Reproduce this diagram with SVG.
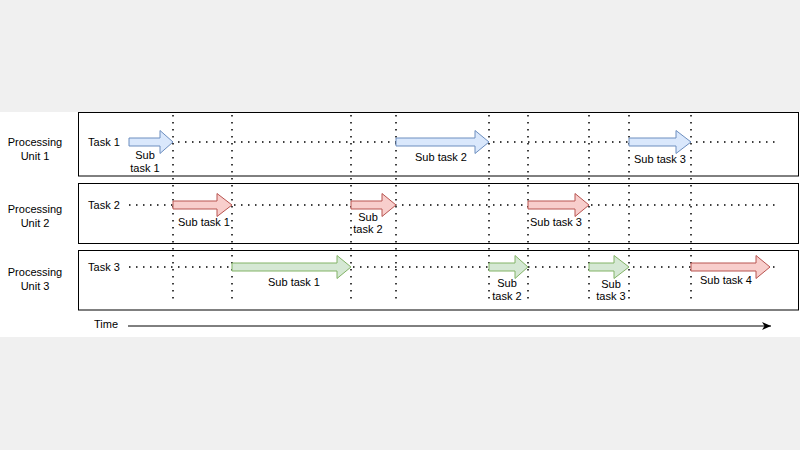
<svg xmlns="http://www.w3.org/2000/svg" width="800" height="450" viewBox="0 0 800 450">
<style>
text{font-family:"Liberation Sans",Arial,sans-serif;font-size:11px;fill:#000;text-anchor:middle;dominant-baseline:central}
.box{fill:#fff;stroke:#000;stroke-width:1}
.dot{stroke:#000;stroke-width:1.5;stroke-dasharray:1.5 5.5;fill:none}
.blue{fill:#dae8fc;stroke:#6c8ebf;stroke-width:1}
.red{fill:#f8cecc;stroke:#b85450;stroke-width:1}
.green{fill:#d5e8d4;stroke:#82b366;stroke-width:1}
</style>
<defs>
<marker id="ah" markerWidth="10" markerHeight="10" refX="9" refY="5" orient="auto" markerUnits="userSpaceOnUse">
<path d="M0,1 L9,5 L0,9 L2.5,5 Z" fill="#000"/>
</marker>
</defs>
<rect x="0" y="0" width="800" height="450" fill="#f0f0f0"/>
<rect x="0" y="112" width="800" height="225" fill="#fff"/>
<g id="unit1"><rect class="box" x="78.5" y="112.5" width="720" height="63.5"/>
<text x="35" y="142">Processing</text><text x="35" y="156">Unit 1</text></g>
<g id="unit2"><rect class="box" x="78.5" y="183.5" width="720" height="60"/>
<text x="35" y="209">Processing</text><text x="35" y="223">Unit 2</text></g>
<g id="unit3"><rect class="box" x="78.5" y="250.5" width="720" height="59.5"/>
<text x="35" y="272">Processing</text><text x="35" y="286">Unit 3</text></g>
<g id="connectors">
<path class="dot" d="M173,115V304M232,115V304M351,115V304M396,115V304M489,115V304M528,115V304M589,115V304M629,115V304M691,115V304"/>
<path class="dot" d="M129,142H777M129,205H777M129,267H780"/>
<line x1="128" y1="326" x2="771" y2="326" stroke="#000" stroke-width="1" marker-end="url(#ah)"/>
</g>
<g id="task1"><text x="104" y="142">Task 1</text></g>
<g id="task2"><text x="104" y="205">Task 2</text></g>
<g id="task3"><text x="104" y="267">Task 3</text></g>
<g id="p1s1"><polygon class="blue" points="129,138 160,138 160,130.5 173,142 160,153.5 160,146 129,146"/>
<text x="145" y="155">Sub</text><text x="145" y="168">task 1</text></g>
<g id="p1s2"><polygon class="blue" points="396,138 475,138 475,130.5 489,142 475,153.5 475,146 396,146"/>
<text x="441" y="157">Sub task 2</text></g>
<g id="p1s3"><polygon class="blue" points="629,138 676,138 676,130.5 691,142 676,153.5 676,146 629,146"/>
<text x="660" y="159">Sub task 3</text></g>
<g id="p2s1"><polygon class="red" points="173,201 217,201 217,193.5 232,205 217,216.5 217,209 173,209"/>
<text x="204" y="222">Sub task 1</text></g>
<g id="p2s2"><polygon class="red" points="351,201 382,201 382,193.5 396,205 382,216.5 382,209 351,209"/>
<text x="368" y="216.5">Sub</text><text x="368" y="229">task 2</text></g>
<g id="p2s3"><polygon class="red" points="528,201 575,201 575,193.5 589,205 575,216.5 575,209 528,209"/>
<text x="556" y="222">Sub task 3</text></g>
<g id="p3s1"><polygon class="green" points="232,263 337,263 337,255.5 351,267 337,278.5 337,271 232,271"/>
<text x="294" y="282">Sub task 1</text></g>
<g id="p3s2"><polygon class="green" points="489,263 515,263 515,255.5 528,267 515,278.5 515,271 489,271"/>
<text x="507" y="283">Sub</text><text x="507" y="296">task 2</text></g>
<g id="p3s3"><polygon class="green" points="589,263 614,263 614,255.5 629,267 614,278.5 614,271 589,271"/>
<text x="611" y="284">Sub</text><text x="611" y="296">task 3</text></g>
<g id="p3s4"><polygon class="red" points="691,263 756,263 756,255.5 770,267 756,278.5 756,271 691,271"/>
<text x="726" y="280">Sub task 4</text></g>
<text x="106" y="324">Time</text>
</svg>
